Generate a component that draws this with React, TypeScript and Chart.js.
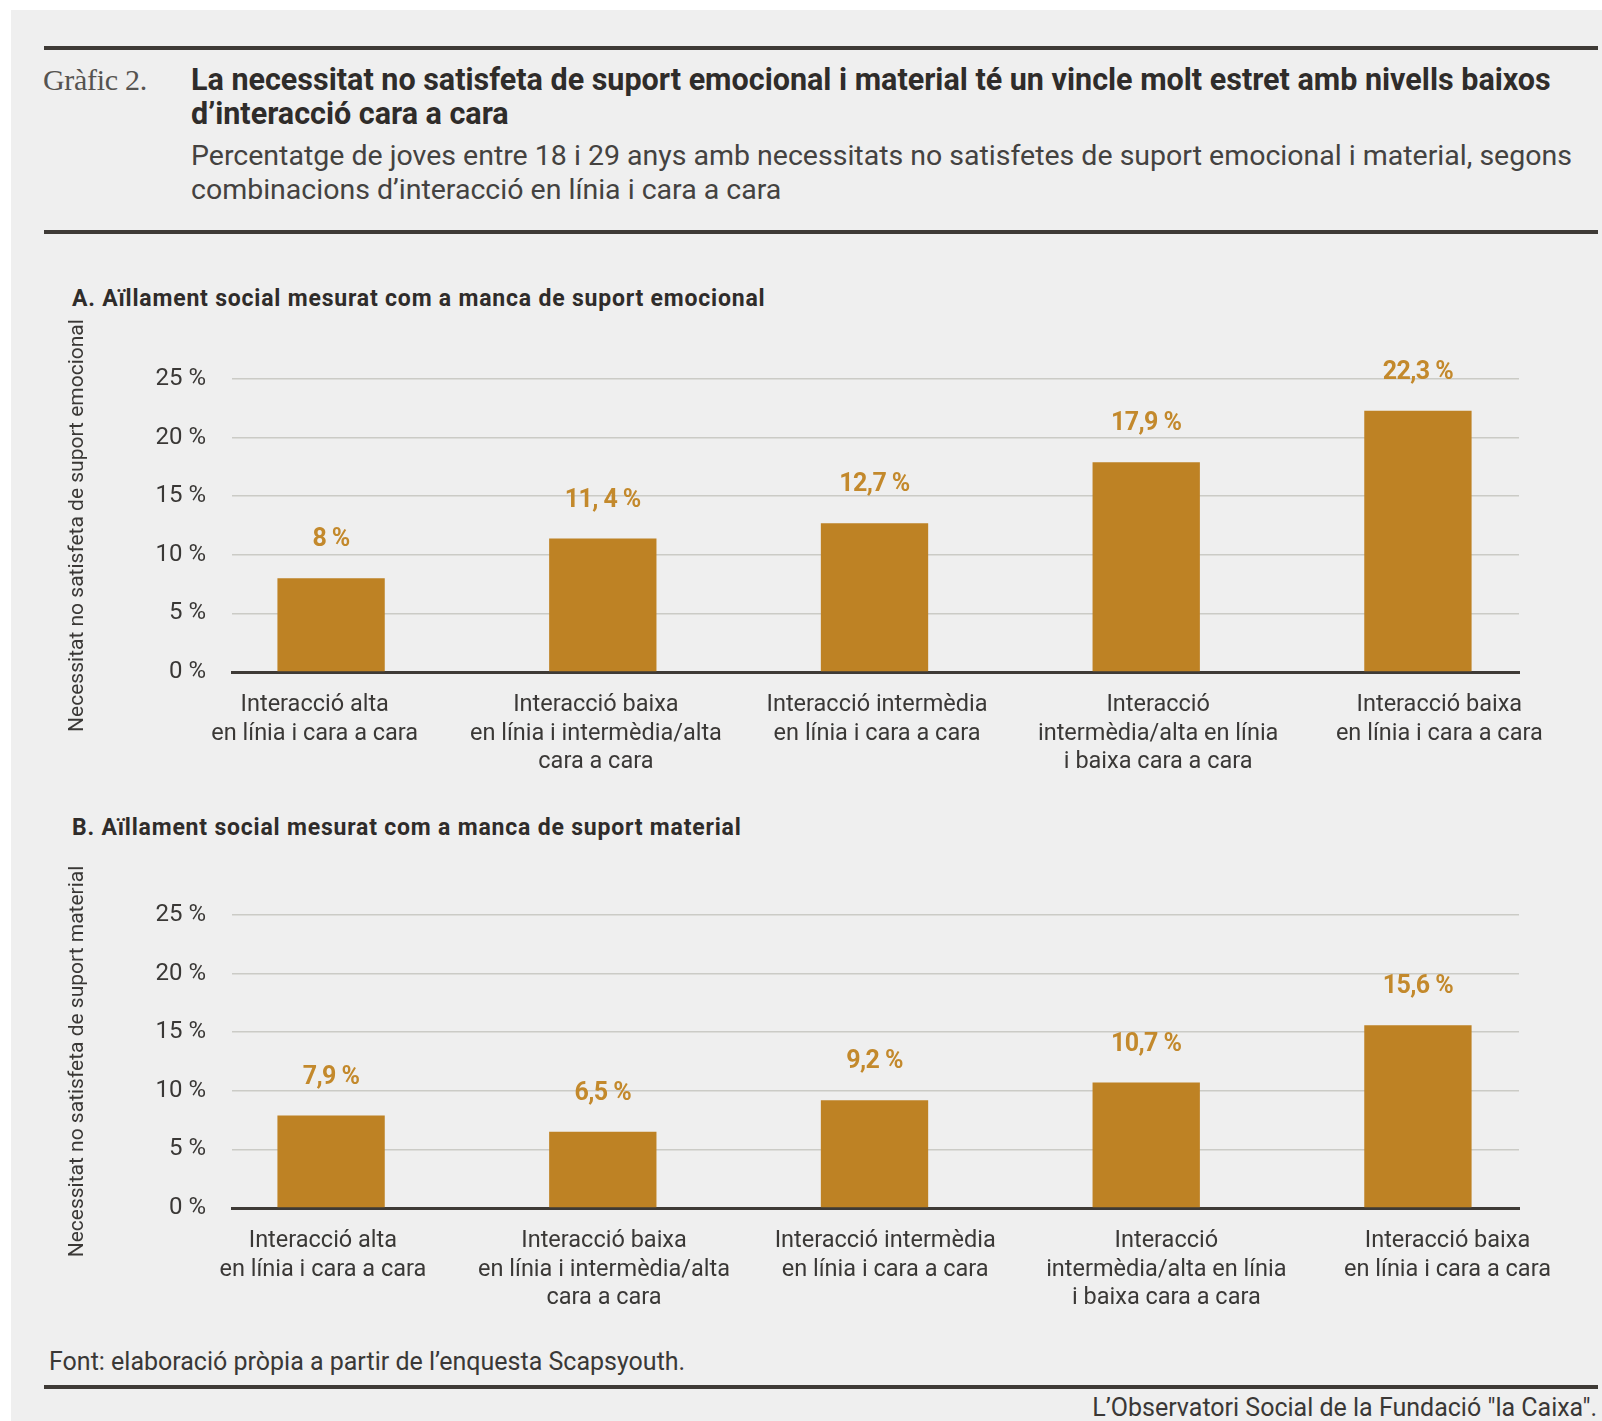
import React, { useEffect, useRef } from 'react';
import { Chart, registerables } from 'chart.js';

Chart.register(...registerables);

// ---------- data ----------
const categories: string[][] = [
  ['Interacció alta', 'en línia i cara a cara'],
  ['Interacció baixa', 'en línia i intermèdia/alta', 'cara a cara'],
  ['Interacció intermèdia', 'en línia i cara a cara'],
  ['Interacció', 'intermèdia/alta en línia', 'i baixa cara a cara'],
  ['Interacció baixa', 'en línia i cara a cara'],
];
const emotionalValues = [8, 11.4, 12.7, 17.9, 22.3];
const emotionalLabels = ['8 %', '11, 4 %', '12,7 %', '17,9 %', '22,3 %'];
const materialValues = [7.9, 6.5, 9.2, 10.7, 15.6];
const materialLabels = ['7,9 %', '6,5 %', '9,2 %', '10,7 %', '15,6 %'];
const yTickValues = [0, 5, 10, 15, 20, 25];

// ---------- styles ----------
const BAR = '#be8224';
const LABEL = '#c3892c';
const TEXT = '#3a3836';
const GRID = '#cbcbc6';
const RULE = '#3e3a36';
const FONT = 'Roboto, "Noto Sans", sans-serif';

const CANVAS_W = 1530;
const CANVAS_H = 510;
const PAD_TOP = 89;

type PanelProps = {
  values: number[];
  labels: string[];
  yTitle: string;
  labelMin: number;
  labelMax: number;
  top: number;
};

function BarPanel({ values, labels, yTitle, labelMin, labelMax, top }: PanelProps) {
  const ref = useRef<HTMLCanvasElement>(null);
  useEffect(() => {
    if (!ref.current) return;
    const valueLabels = {
      id: 'valueLabels',
      afterDatasetsDraw(chart: any) {
        const { ctx } = chart;
        const meta = chart.getDatasetMeta(0);
        ctx.save();
        ctx.font = `bold 25px ${FONT}`;
        (ctx as any).letterSpacing = '-0.6px';
        ctx.fillStyle = LABEL;
        ctx.textAlign = 'center';
        ctx.textBaseline = 'middle';
        meta.data.forEach((bar: any, i: number) => {
          ctx.fillText(labels[i], bar.x, bar.y - 38);
        });
        ctx.restore();
      },
    };
    const chart = new Chart(ref.current, {
      type: 'bar',
      data: {
        datasets: [
          {
            data: values.map((v, i) => ({ x: i, y: v })) as any,
            backgroundColor: BAR,
            barPercentage: 0.395,
            categoryPercentage: 1,
            xAxisID: 'x',
            yAxisID: 'y',
          },
        ],
      },
      options: {
        animation: false,
        responsive: false,
        maintainAspectRatio: false,
        layout: { padding: { top: PAD_TOP, right: 51, left: 0, bottom: 0 } },
        plugins: { legend: { display: false }, tooltip: { enabled: false } },
        scales: {
          x: {
            type: 'linear',
            display: false,
            offset: false,
            grid: { offset: false },
            min: -0.3647,
            max: 4.372,
            afterBuildTicks: (axis: any) => {
              axis.ticks = values.map((_, i) => ({ value: i }));
            },
          } as any,
          xl: {
            type: 'linear',
            position: 'bottom',
            offset: false,
            min: labelMin,
            max: labelMax,
            z: 1,
            grid: { display: false, drawTicks: false, offset: false },
            border: { display: true, color: RULE, width: 3 },
            afterBuildTicks: (axis: any) => {
              axis.ticks = categories.map((_, i) => ({ value: i }));
            },
            afterFit: (axis: any) => {
              axis.height = 128;
              axis.paddingLeft = 0;
              axis.paddingRight = 0;
            },
            ticks: {
              autoSkip: false,
              maxRotation: 0,
              minRotation: 0,
              padding: 19,
              color: TEXT,
              font: { family: FONT, size: 23.5, lineHeight: 1.213 },
              callback: (_v: any, i: number) => categories[i],
            },
          } as any,
          y: {
            type: 'linear',
            min: 0,
            max: 25,
            afterBuildTicks: (axis: any) => {
              axis.ticks = yTickValues.map((v) => ({ value: v }));
            },
            afterFit: (axis: any) => {
              axis.width = 192;
              axis.paddingTop = 0;
              axis.paddingBottom = 0;
            },
            grid: { color: GRID, lineWidth: 1.5, drawTicks: false },
            border: { display: false },
            ticks: {
              padding: 26,
              color: TEXT,
              font: { family: FONT, size: 24 },
              callback: (v: any) => `${v} %`,
            },
            title: {
              display: true,
              text: yTitle,
              color: TEXT,
              font: { family: FONT, size: 21, lineHeight: 1.2 },
              padding: { top: 25, bottom: 0 },
            },
          } as any,
        },
      },
      plugins: [valueLabels],
    });
    return () => chart.destroy();
  }, []);
  return (
    <canvas
      ref={ref}
      width={CANVAS_W}
      height={CANVAS_H}
      style={{ position: 'absolute', left: 40, top, width: CANVAS_W, height: CANVAS_H }}
    />
  );
}

const abs = (left: number, top: number, extra: React.CSSProperties = {}): React.CSSProperties => ({
  position: 'absolute',
  left,
  top,
  margin: 0,
  whiteSpace: 'nowrap',
  ...extra,
});

export default function App() {
  return (
    <div
      style={{
        position: 'absolute',
        left: 0,
        top: 0,
        width: 1602,
        height: 1421,
        background: '#ffffff',
        overflow: 'hidden',
        fontFamily: FONT,
        color: TEXT,
      }}
    >
      <div style={{ position: 'absolute', left: 11, top: 10, right: 0, bottom: 0, background: '#efefef' }} />
      {/* rules */}
      <div style={{ position: 'absolute', left: 44, top: 46, width: 1554, height: 4, background: RULE }} />
      <div style={{ position: 'absolute', left: 44, top: 230, width: 1554, height: 4, background: RULE }} />
      <div style={{ position: 'absolute', left: 44, top: 1385, width: 1554, height: 4, background: RULE }} />

      <div
        style={abs(43, 63, {
          fontFamily: '"Liberation Serif", "DejaVu Serif", serif',
          fontSize: 30,
          lineHeight: '34px',
          color: '#555350',
          letterSpacing: '-0.3px',
        })}
      >
        Gràfic 2.
      </div>
      <div
        style={abs(191, 63, {
          fontSize: 30.5,
          fontWeight: 700,
          lineHeight: '34px',
          color: '#2f2c2a',
          letterSpacing: '0px',
        })}
      >
        La necessitat no satisfeta de suport emocional i material té un vincle molt estret amb nivells baixos
        <br />
        d’interacció cara a cara
      </div>
      <div
        style={abs(191, 139, {
          fontSize: 28.5,
          lineHeight: '34px',
          color: '#444240',
        })}
      >
        Percentatge de joves entre 18 i 29 anys amb necessitats no satisfetes de suport emocional i material, segons
        <br />
        combinacions d’interacció en línia i cara a cara
      </div>

      <div style={abs(72, 284, { fontSize: 23, fontWeight: 700, lineHeight: '30px', color: '#2f2c2a', letterSpacing: '0.8px' })}>
        A. Aïllament social mesurat com a manca de suport emocional
      </div>
      <BarPanel
        values={emotionalValues}
        labels={emotionalLabels}
        yTitle="Necessitat no satisfeta de suport emocional"
        labelMin={-0.2943}
        labelMax={4.2834}
        top={379 - PAD_TOP}
      />

      <div style={abs(72, 813, { fontSize: 23, fontWeight: 700, lineHeight: '30px', color: '#2f2c2a', letterSpacing: '0.8px' })}>
        B. Aïllament social mesurat com a manca de suport material
      </div>
      <BarPanel
        values={materialValues}
        labels={materialLabels}
        yTitle="Necessitat no satisfeta de suport material"
        labelMin={-0.3233}
        labelMax={4.2543}
        top={915 - PAD_TOP}
      />

      <div style={abs(49, 1347, { fontSize: 25, lineHeight: '30px', color: TEXT })}>
        Font: elaboració pròpia a partir de l’enquesta Scapsyouth.
      </div>
      <div
        style={{
          position: 'absolute',
          right: 5,
          top: 1393,
          fontSize: 25,
          lineHeight: '30px',
          color: TEXT,
          whiteSpace: 'nowrap',
        }}
      >
        L’Observatori Social de la Fundació "la Caixa".
      </div>
    </div>
  );
}
